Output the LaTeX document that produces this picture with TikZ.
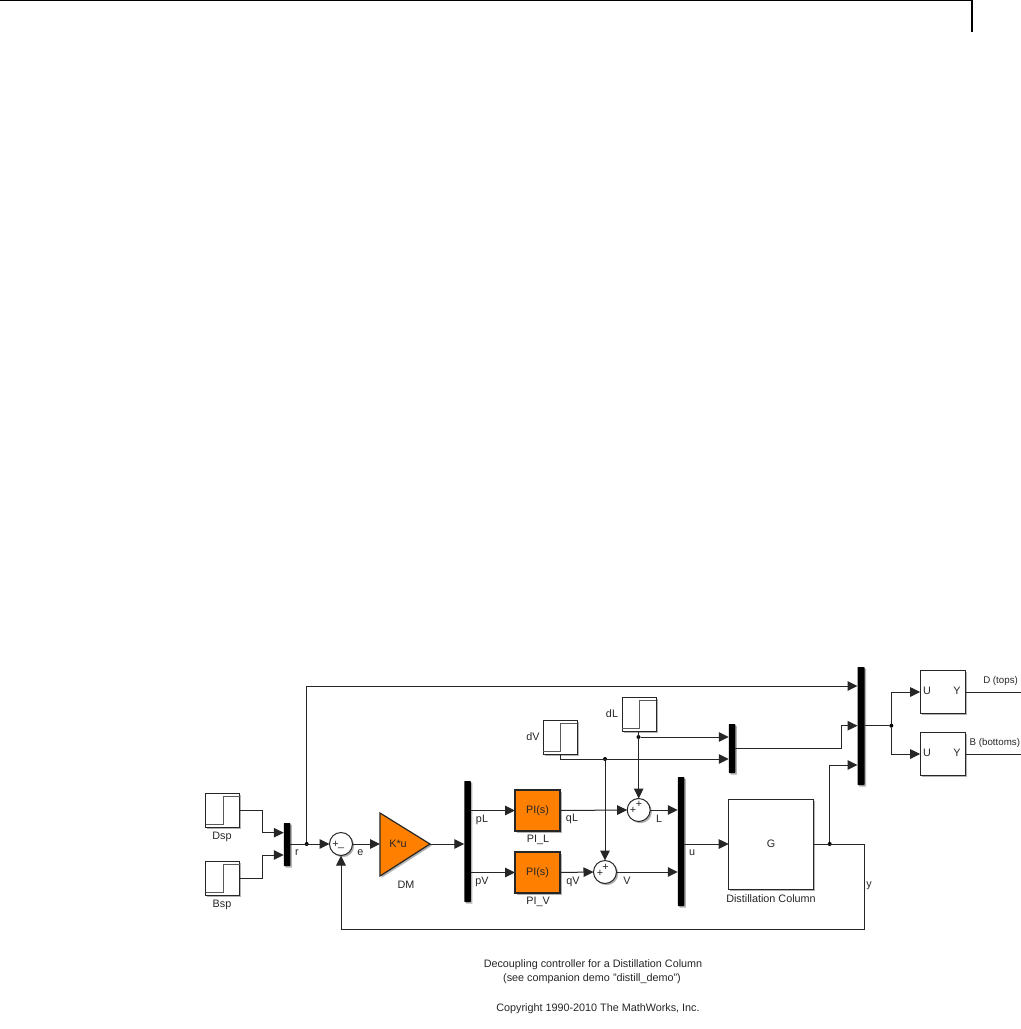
\documentclass[tikz,border=0pt]{standalone}
\usepackage{fontspec}
\setmainfont{Liberation Sans}
\usetikzlibrary{arrows.meta,shadows,calc}
\def\px{0.75pt}
\definecolor{wirec}{HTML}{262626}
\definecolor{orangeblk}{HTML}{FF8000}
\tikzset{
  x=0.75pt,y=-0.75pt,
  sh/.style={drop shadow={shadow xshift=1.3pt,shadow yshift=-1.3pt,opacity=.3,fill=black}},
  blk/.style={draw=wirec,line width=1*\px,fill=white,inner sep=0pt,outer sep=0pt,sh,font=\lab,text=black!85},
  orangebox/.style={blk,fill=orangeblk,line width=1.2*\px,minimum width=45*\px,minimum height=41*\px},
  stepbox/.style={blk,minimum width=34*\px,minimum height=34*\px},
  ubox/.style={blk,minimum width=45*\px,minimum height=43*\px},
  muxbar/.style={fill=black,draw=none,inner sep=0pt,outer sep=0pt,sh,rounded corners=0.5pt},
  sumc/.style={circle,draw=wirec,line width=1*\px,fill=white,inner sep=0pt,outer sep=0pt,minimum size=23*\px,sh},
  wire/.style={draw=wirec,line width=1*\px},
  arr/.style={wire,-{Triangle[length=10*\px,width=9.5*\px]}},
  jdot/.style={circle,fill=black,inner sep=0pt,outer sep=0pt,minimum size=4*\px},
  lbl/.style={font=\lab,text=black!85,inner sep=0pt},
  small lbl/.style={font=\fontsize{7.3}{9}\selectfont,text=black!85,inner sep=0pt},
  steptrace/.style={draw=black!65,line width=1*\px},
}
\newcommand{\lab}{\fontsize{8.1}{9.5}\selectfont}
\newcommand{\stepicon}[1]{\draw[steptrace] ($(#1.south west)+(0,-3)$) -- ++(17.5,0) |- ($(#1.north east)+(0,3)$);}
\begin{document}
\begin{tikzpicture}
\clip (0,0) rectangle (1021,1029);
\fill[white] (0,0) rectangle (1021,1029);
% page header
\coordinate (hl) at (0,0.6);
\coordinate (hc) at (972,0.6);
\coordinate (hb) at (972,32);
\draw[black,line width=1.2*\px] (hl) -- (hc) -- (hb);
% blocks
\node[stepbox] (dsp) at (222.7,810) {};
\node[stepbox] (bsp) at (222.7,878) {};
\node[muxbar,minimum width=6.5*\px,minimum height=43*\px] (mux1) at (287,844.5) {};
\node[sumc] (sum1) at (341,844) {};
\coordinate (dma) at (380,813);
\coordinate (dmb) at (380,876);
\coordinate (dmc) at (430,844);
\draw[fill=orangeblk,draw=wirec,line width=1.2*\px,sh] (dma) -- (dmc) -- (dmb) -- cycle;
\node[lbl] (dmt) at (398,844) {K*u};
\node[muxbar,minimum width=6.5*\px,minimum height=121*\px] (mux2) at (467.5,841.5) {};
\node[orangebox] (pil) at (537.5,810.5) {PI(s)};
\node[orangebox] (piv) at (537.5,872.5) {PI(s)};
\node[sumc] (suml) at (638.7,810) {};
\node[sumc] (sumv) at (605,872) {};
\node[muxbar,minimum width=6.5*\px,minimum height=129*\px] (muxu) at (681,841.5) {};
\node[stepbox] (dl) at (639,714.5) {};
\node[stepbox] (dv) at (560,737.5) {};
\node[muxbar,minimum width=6.5*\px,minimum height=49*\px] (mux3) at (732,748.5) {};
\node[blk,minimum width=84.6*\px,minimum height=90*\px] (g) at (771,844) {G};
\node[muxbar,minimum width=7*\px,minimum height=118*\px] (mux4) at (861,726) {};
\node[ubox] (u1) at (942.7,692) {};
\node[ubox] (u2) at (942.7,754) {};
\stepicon{dsp}
\stepicon{bsp}
\stepicon{dl}
\stepicon{dv}
% junctions
\node[jdot] (j1) at (306.7,844) {};
\node[jdot] (j2) at (605,759) {};
\node[jdot] (j3) at (638.5,737) {};
\node[jdot] (j4) at (829.7,844) {};
\node[jdot] (j5) at (891.3,725.7) {};
% free corners of wires
\coordinate (ttop) at (306.7,686);
\coordinate (ybot) at (864,929);
\coordinate (yright) at (864,844);
\coordinate (fbl) at (341,929);
\coordinate (o1) at (1021,692);
\coordinate (o2) at (1021,754);
\coordinate (dvd) at (560,759);
% wires
\draw[arr] (dsp.east) -- (262,810) |- (mux1.west |- 0,832.7);
\draw[arr] (bsp.east) -- (262,878) |- (mux1.west |- 0,855);
\draw[arr] (mux1.east |- sum1.west) -- (sum1.west);
\draw[arr] (j1) -- (ttop) -- (mux4.west |- ttop);
\draw[arr] (sum1.east) -- (sum1.east -| dma);
\draw[arr] (dmc) -- (mux2.west |- dmc);
\draw[arr] (mux2.east |- pil.west) -- (pil.west);
\draw[arr] (mux2.east |- piv.west) -- (piv.west);
\draw[arr] (pil.east) -- (suml.west);
\draw[arr] (piv.east) -- (sumv.west);
\draw[arr] (suml.east) -- (muxu.west |- suml.east);
\draw[arr] (sumv.east) -- (muxu.west |- sumv.east);
\draw[arr] (muxu.east |- g.west) -- (g.west);
\draw[arr] (dl.south -| suml) -- (suml.north);
\draw[arr] (j3) -- (mux3.west |- j3);
\draw[wire] (dv.south) -- (dvd);
\draw[arr] (dvd) -- (mux3.west |- dvd);
\draw[arr] (j2) -- (sumv.north);
\draw[arr] (mux3.east |- 0,748.7) -- (841.7,748.7) |- (mux4.west |- j5);
\draw[wire] (g.east) -- (yright) -- (ybot) -- (fbl);
\draw[arr] (fbl) -- (sum1.south);
\draw[arr] (j4) |- (mux4.west |- 0,765);
\draw[wire] (mux4.east |- j5) -- (j5);
\draw[arr] (j5) |- (u1.west);
\draw[arr] (j5) |- (u2.west);
\draw[wire] (u1.east) -- (o1);
\draw[wire] (u2.east) -- (o2);
% labels
\node[lbl] (tdsp) at (222,837) {Dsp};
\node[lbl] (tbsp) at (222,905) {Bsp};
\node[lbl] (tr) at (297,853) {r};
\node[lbl] (te) at (360.5,853) {e};
\node[lbl] (tp1) at (335.5,844) {+};
\node[lbl] (tm1) at (341,847.5) {\_};
\node[lbl] (tdm) at (406,885) {DM};
\node[lbl] (tpl) at (482,820) {pL};
\node[lbl] (tpv) at (482,882) {pV};
\node[lbl] (tpil) at (538,840) {PI\_L};
\node[lbl] (tpiv) at (538,902) {PI\_V};
\node[lbl] (tql) at (572,819) {qL};
\node[lbl] (tqv) at (573,882) {qV};
\node[lbl] (tl) at (659,819) {L};
\node[lbl] (tv) at (627,881) {V};
\node[lbl] (tu) at (692,853) {u};
\node[lbl] (tdl) at (612,714) {dL};
\node[lbl] (tdv) at (533,737) {dV};
\node[lbl] (tp2) at (633,810) {+};
\node[lbl] (tp3) at (639,804) {+};
\node[lbl] (tp4) at (600,873) {+};
\node[lbl] (tp5) at (605.5,867) {+};
\node[lbl] (tg) at (771,899) {Distillation Column};
\node[lbl] (ty) at (869,886) {y};
\node[lbl] (tu1) at (927,691) {U};
\node[lbl] (ty1) at (957,691) {Y};
\node[lbl] (tu2) at (927,753) {U};
\node[lbl] (ty2) at (957,753) {Y};
\node[small lbl,anchor=west] (tdt) at (983,681) {D (tops)};
\node[small lbl,anchor=east] (tbb) at (1020.3,743) {B (bottoms)};
\node[lbl] (c1) at (593,965) {Decoupling controller for a Distillation Column};
\node[lbl] (c2) at (592,979) {(see companion demo "distill\_demo")};
\node[lbl] (c3) at (598,1009) {Copyright 1990-2010 The MathWorks, Inc.};
\end{tikzpicture}
\end{document}
